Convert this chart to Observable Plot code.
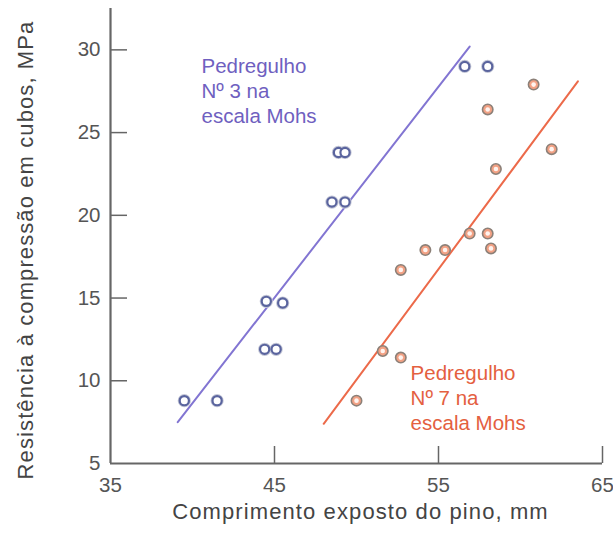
<!DOCTYPE html>
<html><head><meta charset="utf-8">
<script src="https://cdn.jsdelivr.net/npm/d3@7"></script>
<script src="https://cdn.jsdelivr.net/npm/@observablehq/plot@0.6"></script>
<style>
body{margin:0;background:#fff}
#chart svg{display:block}
</style>
</head><body><div id="chart"></div>
<script>
// ---- data ----
const xTicks = [35, 45, 55, 65];
const yTicks = [5, 10, 15, 20, 25, 30];
const xTitle = "Comprimento exposto do pino, mm";
const yTitle = "Resistência à compressão em cubos, MPa";

// Pedregulho Nº 3 (purple)
const mohs3X = [39.5, 41.5, 44.4, 45.1, 44.5, 45.5, 48.5, 49.3, 48.9, 49.3, 56.6, 58.0];
const mohs3Y = [8.8, 8.8, 11.9, 11.9, 14.8, 14.7, 20.8, 20.8, 23.8, 23.8, 29.0, 29.0];
// Pedregulho Nº 7 (orange)
const mohs7X = [50.0, 51.6, 52.7, 52.7, 54.2, 55.4, 56.9, 58.0, 58.2, 58.5, 58.0, 61.9, 60.8];
const mohs7Y = [8.8, 11.8, 11.4, 16.7, 17.9, 17.9, 18.9, 18.9, 18.0, 22.8, 26.4, 24.0, 27.9];

// fitted lines (end points)
const fit3X = [39.1, 56.9];
const fit3Y = [7.5, 30.2];
const fit7X = [48.0, 63.5];
const fit7Y = [7.4, 28.1];

// annotations
const label3 = "Pedregulho\nNº 3 na\nescala Mohs";
const label3At = [40.55, 29.7];
const label7 = "Pedregulho\nNº 7 na\nescala Mohs";
const label7At = [53.3, 11.15];

// ---- build ----
const W = 613, H = 535;
const mL = 110, mR = 11, mT = 8, mB = 72;
const innerW = W - mL - mR, innerH = H - mT - mB;
const tickLen = 17;

const pts3 = mohs3X.map((x, i) => ({x, y: mohs3Y[i]}));
const pts7 = mohs7X.map((x, i) => ({x, y: mohs7Y[i]}));
const line3 = fit3X.map((x, i) => ({x, y: fit3Y[i]}));
const line7 = fit7X.map((x, i) => ({x, y: fit7Y[i]}));

const purple = "#8275d2", purpleText = "#6f5fc0";
const orange = "#ec6a4a", orangeText = "#e4603f";
const axisCol = "#666";

const chart = Plot.plot({
  width: W, height: H,
  marginLeft: mL, marginRight: mR, marginTop: mT, marginBottom: mB,
  style: {fontFamily: "'Liberation Sans', Arial, sans-serif", background: "#fff"},
  x: {domain: [35, 65]},
  y: {domain: [5, 32.5]},
  marks: [
    // axis lines
    Plot.ruleX([35], {stroke: axisCol, strokeWidth: 2.2}),
    Plot.ruleY([5], {stroke: axisCol, strokeWidth: 2.2}),
    // inward ticks
    Plot.ruleX(xTicks.slice(1), {stroke: axisCol, strokeWidth: 1.5, insetTop: innerH - tickLen}),
    Plot.ruleY(yTicks.slice(1), {stroke: axisCol, strokeWidth: 1.5, insetRight: innerW - tickLen}),
    Plot.axisX({ticks: xTicks, tickSize: 0, tickPadding: 14, fontSize: 20.5, fill: "#555", label: null, tickFormat: d => String(d)}),
    Plot.axisY({ticks: yTicks, tickSize: 0, tickPadding: 10, fontSize: 20.5, fill: "#555", label: null, tickFormat: d => String(d)}),
    // titles
    Plot.text([xTitle], {frameAnchor: "bottom", textAnchor: "middle", dx: 4, dy: 55, fontSize: 22, fill: "#444", text: d => d}),
    Plot.text([yTitle], {frameAnchor: "left", textAnchor: "middle", dx: -85, dy: 14, rotate: -90, fontSize: 22, fill: "#444", text: d => d}),
    // fit lines
    Plot.line(line3, {x: "x", y: "y", stroke: purple, strokeWidth: 2}),
    Plot.line(line7, {x: "x", y: "y", stroke: orange, strokeWidth: 2}),
    // points Nº 3
    Plot.dot(pts3, {x: "x", y: "y", r: 4.8, stroke: "#c3c6d6", strokeWidth: 3.6, fill: "none"}),
    Plot.dot(pts3, {x: "x", y: "y", r: 4.6, stroke: "#5a649e", strokeWidth: 2.2, fill: "#fff"}),
    // points Nº 7
    Plot.dot(pts7, {x: "x", y: "y", r: 5.2, fill: "#f2a184", stroke: "#8c8078", strokeWidth: 1.6}),
    Plot.dot(pts7, {x: "x", y: "y", r: 2.3, fill: "#fff3ee"}),
    // annotations
    Plot.text([label3], {x: () => label3At[0], y: () => label3At[1], text: d => d, textAnchor: "start", lineAnchor: "top", lineHeight: 1.22, fontSize: 20.5, fill: purpleText}),
    Plot.text([label7], {x: () => label7At[0], y: () => label7At[1], text: d => d, textAnchor: "start", lineAnchor: "top", lineHeight: 1.22, fontSize: 20.5, fill: orangeText})
  ]
});

d3.select(chart).selectAll("text").filter(function() {
  const t = this.textContent;
  return t === xTitle || t === yTitle;
}).style("letter-spacing", "1.1px");

document.getElementById("chart").appendChild(chart);
</script></body></html>
